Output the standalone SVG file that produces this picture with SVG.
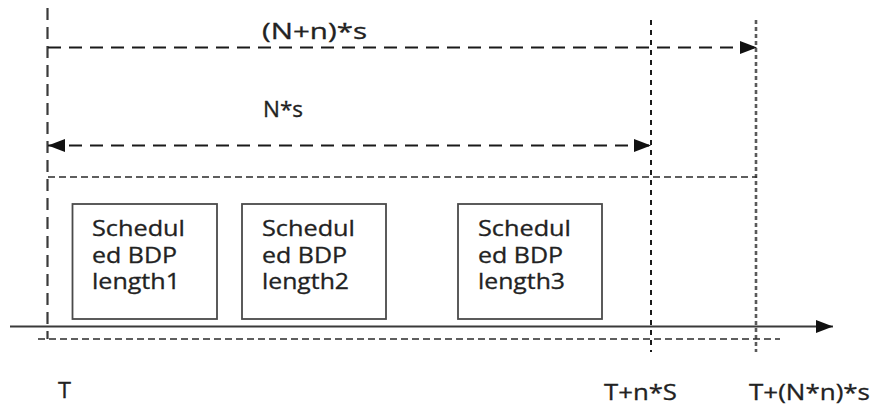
<svg xmlns="http://www.w3.org/2000/svg" width="873" height="406" viewBox="0 0 873 406">
<defs>
<marker id="ah" markerUnits="userSpaceOnUse" markerWidth="17" markerHeight="13" viewBox="0 0 17 13" refX="17" refY="6.5" orient="auto-start-reverse">
<path d="M0,0 L17,6.5 L0,13 Z" fill="#111"/>
</marker>
</defs>
<style>
.t{font-family:"Open Sans","Liberation Sans",sans-serif;font-size:21px;fill:#222;stroke:#222;stroke-width:0.3}
.box{fill:#fff;stroke:#4a4a4a;stroke-width:1.8}
.arr{stroke:#1a1a1a;stroke-width:2.2;stroke-dasharray:13 8;fill:none}
.sd{stroke:#2a2a2a;stroke-width:1.7;stroke-dasharray:7 4;fill:none}
</style>
<g id="guides">
<line x1="47.5" y1="8" x2="47.5" y2="339" stroke="#3a3a3a" stroke-width="2.2" stroke-dasharray="12 7"/>
<line x1="651" y1="20" x2="651" y2="352" stroke="#1a1a1a" stroke-width="2" stroke-dasharray="5 5"/>
<line x1="756" y1="20" x2="756" y2="352" stroke="#5a5a5a" stroke-width="2.6" stroke-dasharray="4 3"/>
<line x1="48" y1="177" x2="757" y2="177" class="sd"/>
<line x1="38" y1="339" x2="780" y2="339" class="sd"/>
</g>
<g id="connectors">
<line x1="48" y1="47.5" x2="757" y2="47.5" class="arr" marker-end="url(#ah)"/>
<line x1="48" y1="145.5" x2="651" y2="145.5" class="arr" marker-start="url(#ah)" marker-end="url(#ah)"/>
<line x1="10" y1="326.5" x2="833" y2="326.5" stroke="#3a3a3a" stroke-width="2.2" marker-end="url(#ah)"/>
</g>
<g id="label-total"><text class="t" x="262" y="39" textLength="105" lengthAdjust="spacingAndGlyphs">(N+n)*s</text></g>
<g id="label-ns"><text class="t" x="263" y="117" textLength="40" lengthAdjust="spacingAndGlyphs">N*s</text></g>
<g id="box1">
<rect class="box" x="72.5" y="204" width="144.5" height="115"/>
<text class="t" x="92" y="236" textLength="93" lengthAdjust="spacingAndGlyphs">Schedul</text>
<text class="t" x="92" y="262.5" textLength="85" lengthAdjust="spacingAndGlyphs">ed BDP</text>
<text class="t" x="92" y="289" textLength="88" lengthAdjust="spacingAndGlyphs">length1</text>
</g>
<g id="box2">
<rect class="box" x="242" y="204" width="144" height="115"/>
<text class="t" x="262" y="236" textLength="93" lengthAdjust="spacingAndGlyphs">Schedul</text>
<text class="t" x="262" y="262.5" textLength="85" lengthAdjust="spacingAndGlyphs">ed BDP</text>
<text class="t" x="262" y="289" textLength="87" lengthAdjust="spacingAndGlyphs">length2</text>
</g>
<g id="box3">
<rect class="box" x="458" y="204" width="144" height="115"/>
<text class="t" x="478" y="236" textLength="93" lengthAdjust="spacingAndGlyphs">Schedul</text>
<text class="t" x="478" y="262.5" textLength="85" lengthAdjust="spacingAndGlyphs">ed BDP</text>
<text class="t" x="478" y="289" textLength="87" lengthAdjust="spacingAndGlyphs">length3</text>
</g>
<g id="label-T"><text class="t" x="58" y="398" textLength="13" lengthAdjust="spacingAndGlyphs">T</text></g>
<g id="label-Tn"><text class="t" x="604" y="400" textLength="73" lengthAdjust="spacingAndGlyphs">T+n*S</text></g>
<g id="label-TNn"><text class="t" x="749" y="400" textLength="121" lengthAdjust="spacingAndGlyphs">T+(N*n)*s</text></g>
</svg>
